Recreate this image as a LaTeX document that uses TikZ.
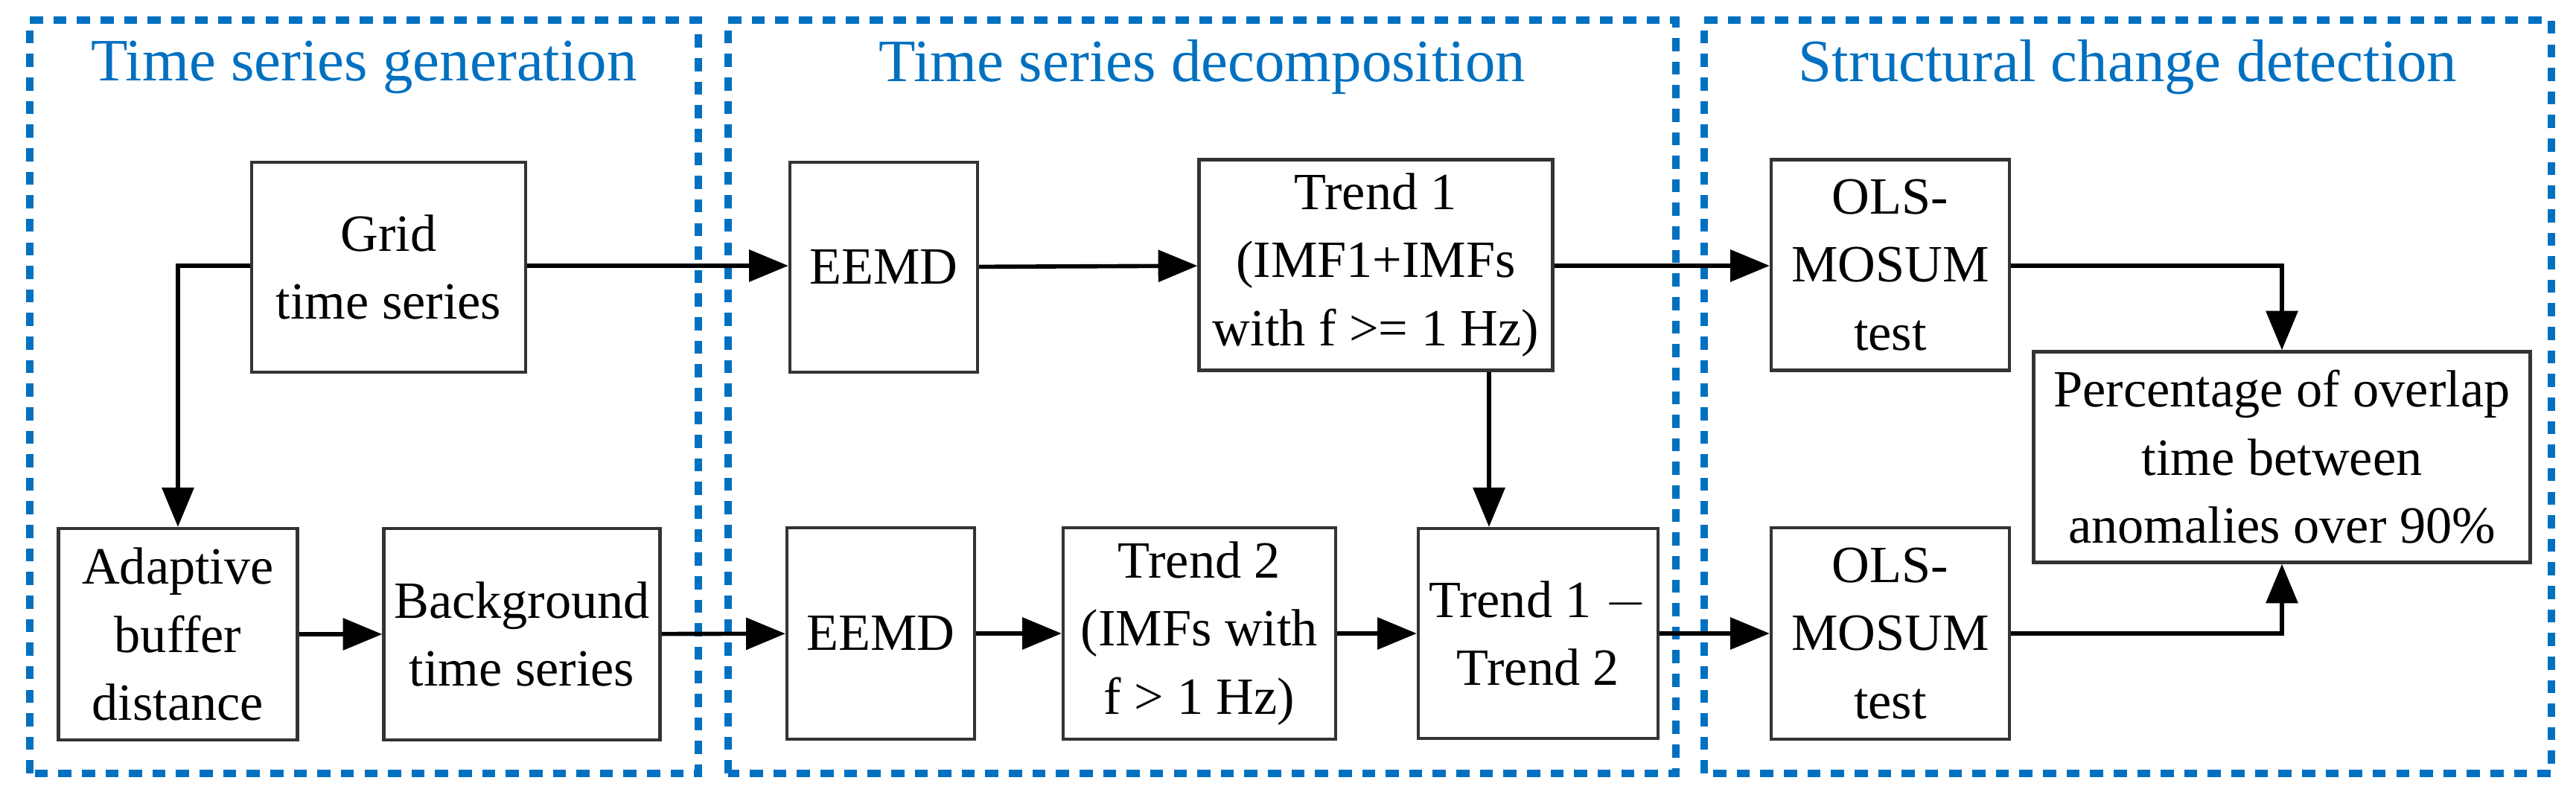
\documentclass[tikz,border=0pt]{standalone}
\usepackage{fontspec}
\setmainfont{Liberation Serif}
\usetikzlibrary{arrows.meta,positioning}
\definecolor{groupblue}{RGB}{0,112,192}

\begin{document}
\begin{tikzpicture} [x=1cm, y=1cm,
    every node/.style={font=\rmfamily\fontsize{20}{26}\selectfont, align=center},
    box/.style={draw=black!80, line width=1.2pt, inner sep=0pt},
    group/.style={draw=groupblue, line width=3pt, dash pattern=on 5pt off 4pt},
    grouptitle/.style={text=groupblue, font=\rmfamily\fontsize{23}{27}\selectfont},
    flow/.style={-{Triangle[length=15pt,width=12pt]}, line width=1.6pt},]
\useasboundingbox (0,0) rectangle (34.6,10.68);
% groups
\draw[group] (0.40,0.29) rectangle (9.38,10.41);
\draw[group] (9.78,0.29) rectangle (22.51,10.41);
\draw[group] (22.89,0.29) rectangle (34.27,10.41);
\node[grouptitle] (t1) at (4.89,9.78) {Time series generation};
\node[grouptitle] (t2) at (16.15,9.78) {Time series decomposition};
\node[grouptitle] (t3) at (28.58,9.78) {Structural change detection};
% top row
\node[box, minimum width=3.68cm, minimum height=2.82cm] (grid) at (5.22,7.09) {Grid\\time series};
\node[box, minimum width=2.52cm, minimum height=2.82cm] (eemd1) at (11.87,7.09) {EEMD};
\node[box, minimum width=4.75cm, minimum height=2.83cm] (trend1) at (18.48,7.12) {Trend 1\\(IMF1+IMFs\\with f >= 1 Hz)};
\node[box, minimum width=3.20cm, minimum height=2.83cm] (ols1) at (25.39,7.12) {OLS-\\MOSUM\\test};
\node[box, minimum width=6.67cm, minimum height=2.83cm] (perc) at (30.65,4.54) {Percentage of overlap\\time between\\anomalies over 90\%};
% bottom row
\node[box, minimum width=3.21cm, minimum height=2.84cm] (adapt) at (2.39,2.16) {Adaptive\\buffer\\distance};
\node[box, minimum width=3.71cm, minimum height=2.84cm] (backg) at (7.01,2.16) {Background\\time series};
\node[box, minimum width=2.52cm, minimum height=2.84cm] (eemd2) at (11.83,2.17) {EEMD};
\node[box, minimum width=3.66cm, minimum height=2.84cm] (trend2) at (16.11,2.17) {Trend 2\\(IMFs with\\f > 1 Hz)};
\node[box, minimum width=3.22cm, minimum height=2.82cm] (diff) at (20.66,2.17) {Trend 1 $-$\\Trend 2};
\node[box, minimum width=3.20cm, minimum height=2.84cm] (ols2) at (25.39,2.17) {OLS-\\MOSUM\\test};
% connectors
\coordinate (toprow) at (0,7.11);
\coordinate (botrow) at (0,2.17);
\coordinate (drop) at (20.00,0);
\draw[flow] (grid.east |- toprow) -- (eemd1.west |- toprow);
\draw[flow] (eemd1) -- (trend1);
\draw[flow] (trend1.east |- toprow) -- (ols1.west |- toprow);
\draw[flow] (grid.west |- toprow) -| (adapt.north);
\draw[flow] (trend1.south -| drop) -- (diff.north -| drop);
\draw[flow] (ols1.east |- toprow) -| (perc.north);
\draw[flow] (adapt) -- (backg);
\draw[flow] (backg) -- (eemd2);
\draw[flow] (eemd2) -- (trend2);
\draw[flow] (trend2) -- (diff);
\draw[flow] (diff) -- (ols2);
\draw[flow] (ols2.east |- botrow) -| (perc.south);
\end{tikzpicture}
\end{document}
